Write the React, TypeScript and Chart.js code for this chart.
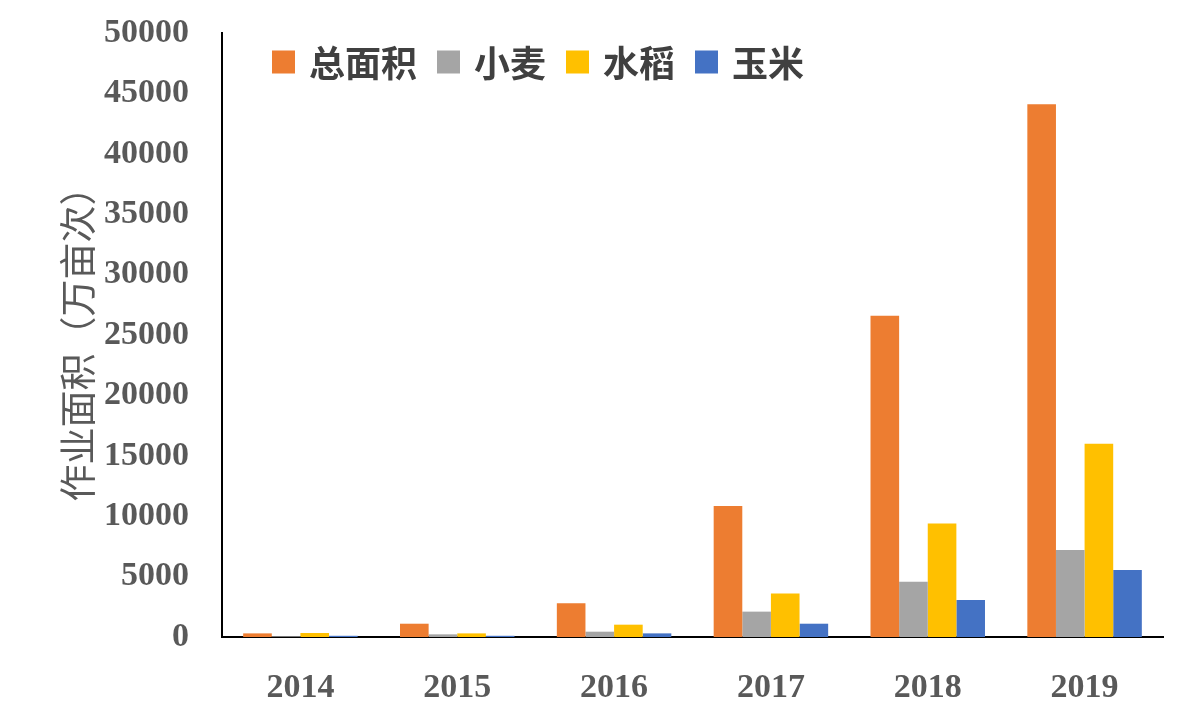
import React, { useEffect, useRef } from "react";
import { Chart, registerables } from "chart.js";

Chart.register(...registerables);

const categories = ["2014", "2015", "2016", "2017", "2018", "2019"];
const seriesNames = ["总面积", "小麦", "水稻", "玉米"];
const totalArea = [300, 1100, 2800, 10850, 26600, 44100];
const wheat = [60, 220, 440, 2100, 4570, 7200];
const rice = [330, 300, 1020, 3600, 9390, 16000];
const corn = [100, 100, 300, 1100, 3060, 5550];
const seriesColors = ["#ED7D31", "#A5A5A5", "#FFC000", "#4472C4"];
const yAxisTitle = "作业面积（万亩次）";
const yMin = 0;
const yMax = 50000;
const yStep = 5000;

const legendPlugin = {
  id: "customLegend",
  afterDraw(chart: any) {
    const ctx = chart.ctx;
    const area = chart.chartArea;
    ctx.save();
    ctx.font = "bold 36px 'Noto Sans CJK SC'";
    ctx.textBaseline = "middle";
    ctx.textAlign = "left";
    let x = area.left + 50;
    const cy = area.top + 29;
    const box = 23;
    chart.data.datasets.forEach((ds: any) => {
      ctx.fillStyle = ds.backgroundColor;
      ctx.fillRect(x, cy - box / 2, box, box);
      x += box + 14;
      ctx.fillStyle = "#404040";
      ctx.fillText(ds.label, x, cy + 1);
      x += ctx.measureText(ds.label).width + 20;
    });
    ctx.restore();
  },
};

export default function App() {
  const ref = useRef<HTMLCanvasElement | null>(null);
  useEffect(() => {
    if (!ref.current) return;
    const data = [totalArea, wheat, rice, corn];
    const chart = new Chart(ref.current, {
      type: "bar",
      data: {
        labels: categories,
        datasets: seriesNames.map((name, i) => ({
          label: name,
          data: data[i],
          backgroundColor: seriesColors[i],
          borderWidth: 0,
          barPercentage: 1,
          categoryPercentage: 0.73,
        })),
      },
      options: {
        animation: false,
        responsive: true,
        maintainAspectRatio: false,
        layout: { padding: { top: 33, right: 37, bottom: 0, left: 0 } },
        plugins: {
          legend: { display: false },
          tooltip: { enabled: false },
        },
        scales: {
          x: {
            grid: { display: false },
            border: { display: true, color: "#000", width: 2 },
            ticks: {
              color: "#595959",
              font: { family: "'Liberation Serif'", size: 34, weight: "bold" },
              padding: 23,
            },
            afterFit(scale: any) {
              scale.height = 83;
            },
          },
          y: {
            min: yMin,
            max: yMax,
            grid: { display: false },
            border: { display: true, color: "#000", width: 2 },
            ticks: {
              stepSize: yStep,
              color: "#595959",
              font: { family: "'Liberation Serif'", size: 34, weight: "bold" },
              padding: 25,
              callback: (v: any) => String(v),
            },
            title: {
              display: true,
              text: yAxisTitle,
              color: "#595959",
              font: { family: "'Noto Sans CJK SC'", size: 37, weight: "normal", lineHeight: 1.2 },
              padding: { top: 56, bottom: 0 },
            },
            afterFit(scale: any) {
              scale.width = 222;
              scale.paddingTop = 0;
              scale.paddingBottom = 0;
            },
          },
        },
      },
      plugins: [legendPlugin],
    });
    return () => chart.destroy();
  }, []);
  return (
    <div style={{ position: "fixed", left: 0, top: 0, width: 1200, height: 720, background: "#fff" }}>
      <canvas ref={ref} />
    </div>
  );
}
